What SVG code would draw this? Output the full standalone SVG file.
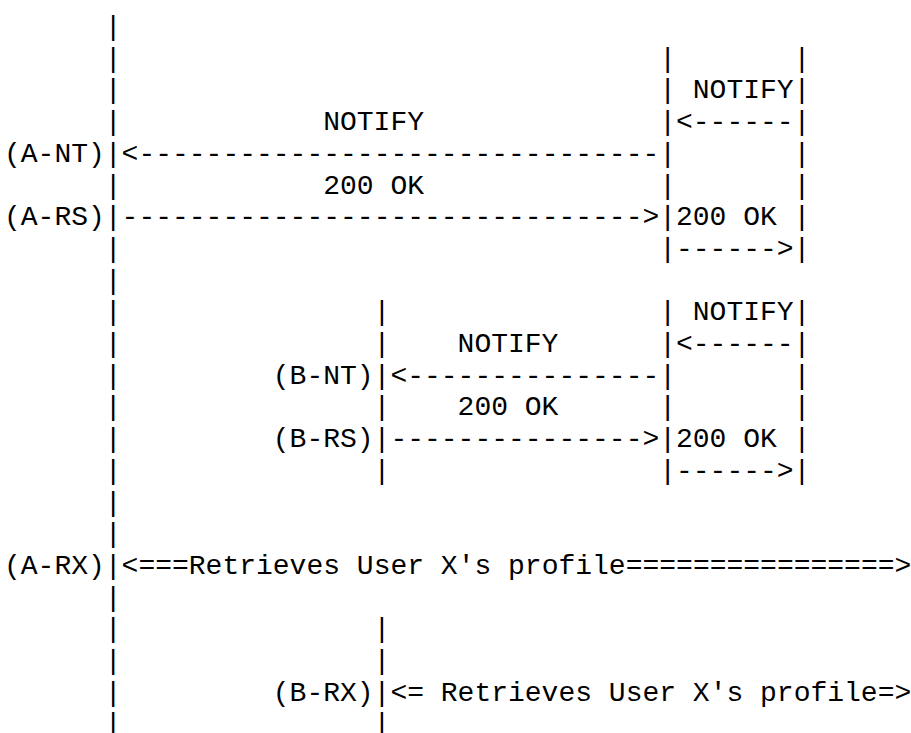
<svg xmlns="http://www.w3.org/2000/svg" width="911" height="733" viewBox="0 0 911 733">
<style>
text{font-family:"Liberation Mono","DejaVu Sans Mono",monospace;font-size:28px;fill:#000;white-space:pre}
</style>
<rect width="911" height="733" fill="#fff"/>
<g id="lifelines">
<g id="lifeline-A"><text xml:space="preserve"><tspan x="104.8" y="35">|</tspan><tspan x="104.8" y="66.7">|</tspan><tspan x="104.8" y="98.4">|</tspan><tspan x="104.8" y="130.1">|</tspan><tspan x="104.8" y="161.8">|</tspan><tspan x="104.8" y="193.5">|</tspan><tspan x="104.8" y="225.2">|</tspan><tspan x="104.8" y="256.9">|</tspan><tspan x="104.8" y="288.6">|</tspan><tspan x="104.8" y="320.3">|</tspan><tspan x="104.8" y="352">|</tspan><tspan x="104.8" y="383.7">|</tspan><tspan x="104.8" y="415.4">|</tspan><tspan x="104.8" y="447.1">|</tspan><tspan x="104.8" y="478.8">|</tspan><tspan x="104.8" y="510.5">|</tspan><tspan x="104.8" y="542.2">|</tspan><tspan x="104.8" y="573.9">|</tspan><tspan x="104.8" y="605.6">|</tspan><tspan x="104.8" y="637.3">|</tspan><tspan x="104.8" y="669">|</tspan><tspan x="104.8" y="700.7">|</tspan><tspan x="104.8" y="732">|</tspan></text></g>
<g id="lifeline-B"><text xml:space="preserve"><tspan x="373.6" y="320.3">|</tspan><tspan x="373.6" y="352">|</tspan><tspan x="373.6" y="383.7">|</tspan><tspan x="373.6" y="415.4">|</tspan><tspan x="373.6" y="447.1">|</tspan><tspan x="373.6" y="478.8">|</tspan><tspan x="373.6" y="637.3">|</tspan><tspan x="373.6" y="669">|</tspan><tspan x="373.6" y="700.7">|</tspan><tspan x="373.6" y="732">|</tspan></text></g>
<g id="lifeline-C"><text xml:space="preserve"><tspan x="659.2" y="66.7">|</tspan><tspan x="659.2" y="98.4">|</tspan><tspan x="659.2" y="130.1">|</tspan><tspan x="659.2" y="161.8">|</tspan><tspan x="659.2" y="193.5">|</tspan><tspan x="659.2" y="225.2">|</tspan><tspan x="659.2" y="256.9">|</tspan><tspan x="659.2" y="320.3">|</tspan><tspan x="659.2" y="352">|</tspan><tspan x="659.2" y="383.7">|</tspan><tspan x="659.2" y="415.4">|</tspan><tspan x="659.2" y="447.1">|</tspan><tspan x="659.2" y="478.8">|</tspan></text></g>
<g id="lifeline-D"><text xml:space="preserve"><tspan x="793.6" y="66.7">|</tspan><tspan x="793.6" y="98.4">|</tspan><tspan x="793.6" y="130.1">|</tspan><tspan x="793.6" y="161.8">|</tspan><tspan x="793.6" y="193.5">|</tspan><tspan x="793.6" y="225.2">|</tspan><tspan x="793.6" y="256.9">|</tspan><tspan x="793.6" y="320.3">|</tspan><tspan x="793.6" y="352">|</tspan><tspan x="793.6" y="383.7">|</tspan><tspan x="793.6" y="415.4">|</tspan><tspan x="793.6" y="447.1">|</tspan><tspan x="793.6" y="478.8">|</tspan></text></g>
</g>
<g id="step-labels">
<text id="A-NT" x="4" y="161.8">(A-NT)</text>
<text id="A-RS" x="4" y="225.2">(A-RS)</text>
<text id="B-NT" x="272.8" y="383.7">(B-NT)</text>
<text id="B-RS" x="272.8" y="447.1">(B-RS)</text>
<text id="A-RX" x="4" y="573.9">(A-RX)</text>
<text id="B-RX" x="272.8" y="700.7">(B-RX)</text>
</g>
<g id="connectors">
<text x="692.8" y="98.4">NOTIFY</text>
<text x="676" y="130.1" xml:space="preserve">&lt;------</text>
<text x="323.2" y="130.1">NOTIFY</text>
<text x="121.6" y="161.8" xml:space="preserve">&lt;-------------------------------</text>
<text x="323.2" y="193.5" xml:space="preserve">200 OK</text>
<text x="121.6" y="225.2" xml:space="preserve">-------------------------------&gt;</text>
<text x="676" y="225.2" xml:space="preserve">200 OK</text>
<text x="676" y="256.9" xml:space="preserve">------&gt;</text>
<text x="692.8" y="320.3">NOTIFY</text>
<text x="457.6" y="352">NOTIFY</text>
<text x="676" y="352" xml:space="preserve">&lt;------</text>
<text x="390.4" y="383.7" xml:space="preserve">&lt;---------------</text>
<text x="457.6" y="415.4" xml:space="preserve">200 OK</text>
<text x="390.4" y="447.1" xml:space="preserve">---------------&gt;</text>
<text x="676" y="447.1" xml:space="preserve">200 OK</text>
<text x="676" y="478.8" xml:space="preserve">------&gt;</text>
<text x="121.6" y="573.9" xml:space="preserve">&lt;===Retrieves User X's profile================&gt;</text>
<text x="390.4" y="700.7" xml:space="preserve">&lt;= Retrieves User X's profile=&gt;</text>
</g>
</svg>
